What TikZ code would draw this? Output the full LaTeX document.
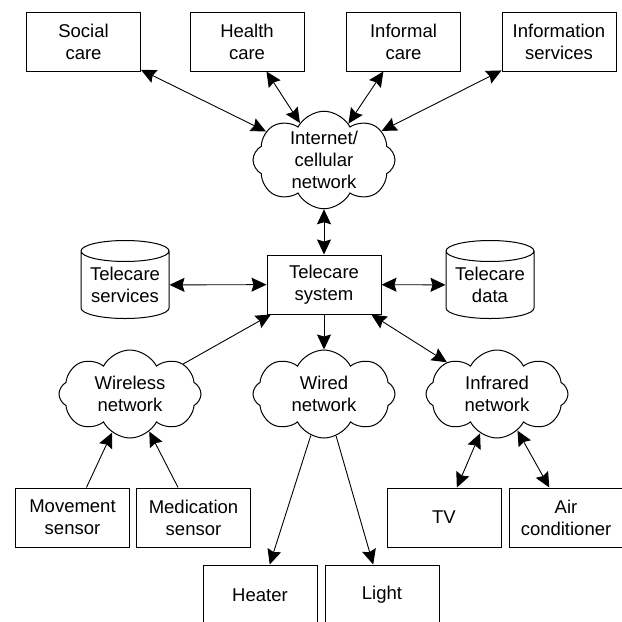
\documentclass[tikz,border=0pt]{standalone}
\usepackage{fontspec}
\setmainfont{Liberation Sans}
\usetikzlibrary{shapes.symbols,shapes.geometric,arrows.meta}

\begin{document}
\begin{tikzpicture}[x=1pt, y=-1pt,
    every node/.style={font=\fontsize{18.5}{22}\selectfont, align=center},
    box/.style={rectangle, draw, line width=1pt, minimum width=114pt, minimum height=59pt, inner sep=0pt},
    net/.style={cloud, draw, line width=1pt, cloud puffs=8, cloud puff arc=125, cloud ignores aspect, minimum width=142pt, minimum height=88pt, inner sep=0pt},
    store/.style={cylinder, draw, line width=1pt, shape border rotate=90, aspect=0.3, minimum width=88pt, minimum height=78pt, inner sep=0pt},
    link/.style={line width=0.9pt, -{Stealth[length=15pt,width=14pt,inset=2pt]}},
    both/.style={line width=0.9pt, {Stealth[length=15pt,width=14pt,inset=2pt]}-{Stealth[length=15pt,width=14pt,inset=2pt]}}]
    \useasboundingbox (0,0) rectangle (622,622);

    \node[box] (social) at (83.5, 41.5) {Social\\care};
    \node[box] (health) at (247, 41.5) {Health\\care};
    \node[box] (informal) at (403.5, 41.5) {Informal\\care};
    \node[box] (info) at (559, 41.5) {Information\\services};

    \node[net] (internet) at (324, 160) {Internet/\\cellular\\network};

    \node[box] (system) at (324, 284.5) {Telecare\\system};
    \node[store] (services) at (125, 285) {Telecare\\services};
    \node[store] (data) at (490, 285) {Telecare\\data};

    \node[net] (wireless) at (130, 394) {Wireless\\network};
    \node[net] (wired) at (324, 394) {Wired\\network};
    \node[net] (infrared) at (497, 394) {Infrared\\network};

    \node[box] (movement) at (72.5, 517.5) {Movement\\sensor};
    \node[box] (medication) at (193.5, 517.5) {Medication\\sensor};
    \node[box] (tv) at (444, 517.5) {TV};
    \node[box] (air) at (566, 517.5) {Air\\conditioner};
    \node[box, minimum height=60pt] (heater) at (260, 595) {Heater};
    \node[box, minimum height=60pt] (light) at (382, 595) {Light};

    % connectors
    \draw[both] (social) -- (internet);
    \draw[both] (health) -- (internet);
    \draw[both] (informal) -- (internet);
    \draw[both] (info) -- (internet);
    \draw[both] (internet) -- (system);
    \draw[both] (services) -- (system);
    \draw[both] (system) -- (data);
    \draw[link] (wireless) -- (system);
    \draw[link] (system) -- (wired);
    \draw[both] (system) -- (infrared);
    \draw[link] (movement) -- (wireless);
    \draw[link] (medication) -- (wireless);
    \draw[link] (wired) -- (heater);
    \draw[link] (wired) -- (light);
    \draw[both] (infrared) -- (tv);
    \draw[both] (infrared) -- (air);
\end{tikzpicture}
\end{document}
